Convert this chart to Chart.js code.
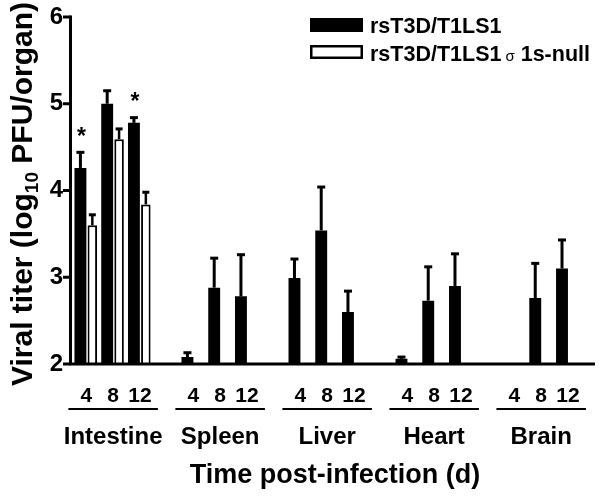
<!DOCTYPE html>
<html><head><meta charset="utf-8">
<script src="https://cdn.jsdelivr.net/npm/chart.js@4.4.0/dist/chart.umd.min.js"></script>
<style>html,body{margin:0;padding:0;background:#fff;} #wrap{width:600px;height:497px;position:relative;}</style>
</head><body><div id="wrap"><canvas id="c" width="600" height="497"></canvas></div>
<script>
// ---- data ----
const organs = ['Intestine', 'Spleen', 'Liver', 'Heart', 'Brain'];
// three days per organ, followed by an empty spacer slot
const slotLabels = ['4','8','12','', '4','8','12','', '4','8','12','', '4','8','12','', '4','8','12'];
const wtLabel = 'rsT3D/T1LS1';
const nullLabel = 'rsT3D/T1LS1 σ1s-null';
const wtValues = [4.26, 5.00, 4.78, null, 2.08, 2.88, 2.78, null, 2.99, 3.54, 2.60, null, 2.06, 2.73, 2.90, null, null, 2.76, 3.10];
const wtSEM    = [0.18, 0.15, 0.06, null, 0.05, 0.34, 0.48, null, 0.22, 0.50, 0.24, null, 0.02, 0.39, 0.37, null, null, 0.40, 0.33];
const nullValues = [3.60, 4.59, 3.84, null, null, null, null, null, null, null, null, null, null, null, null, null, null, null, null];
const nullSEM    = [0.12, 0.12, 0.14, null, null, null, null, null, null, null, null, null, null, null, null, null, null, null, null];
const significance = ['*', '', '*', '', '', '', '', '', '', '', '', '', '', '', '', '', '', '', ''];
const yTicks = [2, 3, 4, 5, 6];
const yTitle = ['Viral titer (log', '10', ' PFU/organ)'];
const xTitle = 'Time post-infection (d)';

const FONT = '"Liberation Sans", Arial, sans-serif';
const AXIS_X = 70.5;

const decor = {
  id: 'decor',
  beforeDraw(chart) {
    const ctx = chart.ctx;
    ctx.save(); ctx.fillStyle = '#fff'; ctx.fillRect(0, 0, chart.width, chart.height); ctx.restore();
  },
  afterDatasetsDraw(chart) {
    const ctx = chart.ctx, ys = chart.scales.y, a = chart.chartArea;
    // axis lines and y tick marks
    ctx.save();
    ctx.strokeStyle = '#000'; ctx.lineWidth = 3;
    ctx.beginPath();
    ctx.moveTo(AXIS_X, ys.getPixelForValue(6) - 1.5);
    ctx.lineTo(AXIS_X, a.bottom);
    ctx.lineTo(595, a.bottom);
    ctx.stroke();
    ys.ticks.forEach(t => {
      const py = ys.getPixelForValue(t.value);
      ctx.beginPath(); ctx.moveTo(AXIS_X - 7.5, py); ctx.lineTo(AXIS_X, py); ctx.stroke();
    });
    ctx.restore();
    const specs = [{sem: wtSEM, lw: 3, cap: 8}, {sem: nullSEM, lw: 2.5, cap: 7}];
    chart.data.datasets.forEach((ds, di) => {
      const meta = chart.getDatasetMeta(di);
      meta.data.forEach((bar, i) => {
        const v = ds.data[i], e = specs[di].sem[i];
        if (v == null || e == null) return;
        const top = ys.getPixelForValue(v + e);
        ctx.save();
        ctx.strokeStyle = '#000';
        ctx.lineWidth = specs[di].lw;
        ctx.beginPath(); ctx.moveTo(bar.x, bar.y); ctx.lineTo(bar.x, top); ctx.stroke();
        ctx.lineWidth = 3;
        ctx.beginPath(); ctx.moveTo(bar.x - specs[di].cap / 2, top); ctx.lineTo(bar.x + specs[di].cap / 2, top); ctx.stroke();
        if (di === 0 && significance[i]) {
          ctx.fillStyle = '#000';
          ctx.font = 'bold 23px ' + FONT;
          ctx.textAlign = 'center';
          ctx.textBaseline = 'alphabetic';
          const m = ctx.measureText(significance[i]);
          const cy = top - 21;
          ctx.fillText(significance[i], bar.x + 1, cy + (m.actualBoundingBoxAscent - m.actualBoundingBoxDescent) / 2);
        }
        ctx.restore();
      });
    });
  },
  afterDraw(chart) {
    const ctx = chart.ctx, xs = chart.scales.x;
    ctx.save();
    ctx.strokeStyle = '#000';
    // organ groups: underline + name
    ctx.fillStyle = '#000';
    ctx.textAlign = 'center'; ctx.textBaseline = 'alphabetic';
    organs.forEach((name, gi) => {
      const x0 = xs.getPixelForValue(gi * 4) - 18;
      const x1 = xs.getPixelForValue(gi * 4 + 2) + 18;
      ctx.lineWidth = 2;
      ctx.beginPath(); ctx.moveTo(x0, 409); ctx.lineTo(x1, 409); ctx.stroke();
      ctx.font = 'bold 24px ' + FONT;
      ctx.fillText(name, xs.getPixelForValue(gi * 4 + 1), 444);
    });
    // x title
    ctx.font = 'bold 27px ' + FONT;
    ctx.fillText(xTitle, 335, 483);
    // y title (rotated, with subscript)
    ctx.save();
    ctx.translate(32, 194);
    ctx.rotate(-Math.PI / 2);
    ctx.textAlign = 'left';
    const big = 'bold 30px ' + FONT, small = 'bold 19px ' + FONT;
    ctx.font = big; const w0 = ctx.measureText(yTitle[0]).width;
    ctx.font = small; const w1 = ctx.measureText(yTitle[1]).width;
    ctx.font = big; const w2 = ctx.measureText(yTitle[2]).width;
    let px = -(w0 + w1 + w2) / 2;
    ctx.font = big; ctx.fillText(yTitle[0], px, 0); px += w0;
    ctx.font = small; ctx.fillText(yTitle[1], px, 6); px += w1;
    ctx.font = big; ctx.fillText(yTitle[2], px, 0);
    ctx.restore();
    // legend
    const ds = chart.data.datasets;
    ctx.textAlign = 'left';
    ctx.fillStyle = '#000';
    ctx.fillRect(310, 18, 53, 14);
    ctx.lineWidth = 2.5; ctx.strokeStyle = '#000';
    ctx.strokeRect(311.25, 46.25, 50.5, 11.5);
    const lf = 'bold 21.5px ' + FONT;
    ctx.font = lf;
    ctx.fillText(ds[0].label, 370, 33);
    const parts = ds[1].label.split('σ');
    let lx = 370;
    ctx.fillText(parts[0].trim(), lx, 61); lx += ctx.measureText(parts[0].trim()).width + 4;
    ctx.font = '15px ' + FONT;
    ctx.fillText('σ', lx, 61); lx += ctx.measureText('σ').width + 6;
    ctx.font = lf;
    ctx.fillText(parts[1], lx, 61);
    ctx.restore();
  }
};

new Chart(document.getElementById('c'), {
  type: 'bar',
  data: {
    labels: slotLabels,
    datasets: [
      { label: wtLabel, data: wtValues, backgroundColor: '#000', borderWidth: 0, barPercentage: 1.0, categoryPercentage: 0.89 },
      { label: nullLabel, data: nullValues, backgroundColor: '#fff', borderColor: '#000', borderWidth: 2, barPercentage: 0.8, categoryPercentage: 0.89 }
    ]
  },
  options: {
    responsive: false,
    animation: false,
    layout: { padding: { top: 17, right: 14, left: 0, bottom: 0 } },
    plugins: { legend: { display: false }, tooltip: { enabled: false } },
    scales: {
      x: {
        offset: true,
        grid: { display: false, drawTicks: false, drawBorder: false },
        border: { display: false },
        ticks: { color: '#000', font: { family: FONT, size: 21, weight: 'bold' }, padding: 20, autoSkip: false, maxRotation: 0 },
        afterFit(s) { s.height = 133; }
      },
      y: {
        min: 2, max: 6,
        afterBuildTicks(s) { s.ticks = yTicks.map(v => ({ value: v })); },
        grid: { display: true, drawOnChartArea: false, drawTicks: true, drawBorder: false, tickLength: 9, tickColor: 'rgba(0,0,0,0)', color: 'rgba(0,0,0,0)' },
        border: { display: false },
        ticks: { color: '#000', font: { family: FONT, size: 24, weight: 'bold' }, padding: 1 },
        afterFit(s) { s.width = 73; }
      }
    }
  },
  plugins: [decor]
});
</script>
</body></html>
